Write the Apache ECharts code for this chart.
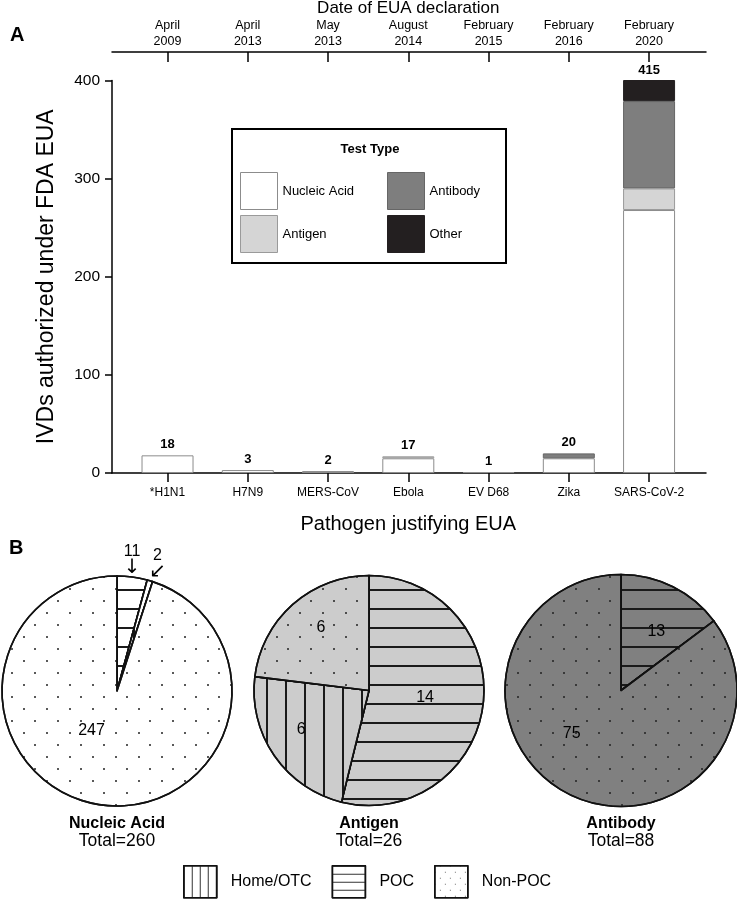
<!DOCTYPE html>
<html><head><meta charset="utf-8">
<script src="https://cdn.jsdelivr.net/npm/echarts@6/dist/echarts.min.js"></script>
<style>html,body{margin:0;padding:0;background:#fff}#c{width:737px;height:900px}</style>
</head><body><div id="c"></div>
<script>
// ---------- data ----------
const pathogens = ['*H1N1', 'H7N9', 'MERS-CoV', 'Ebola', 'EV D68', 'Zika', 'SARS-CoV-2'];
const declarationDates = ['April\n2009', 'April\n2013', 'May\n2013', 'August\n2014', 'February\n2015', 'February\n2016', 'February\n2020'];
const testTypes = ['Nucleic Acid', 'Antigen', 'Antibody', 'Other'];
const nucleicAcid = [18, 3, 2, 15, 1, 15, 268];
const antigen     = [0, 0, 0, 2, 0, 0, 22];
const antibody    = [0, 0, 0, 0, 0, 5, 89];
const other       = [0, 0, 0, 0, 0, 0, 36];
const yTicks = [0, 100, 200, 300, 400];

const settings = ['POC', 'Home/OTC', 'Non-POC'];           // slice order, clockwise from top
const legendSettings = ['Home/OTC', 'POC', 'Non-POC'];
const nucleicAcidBySetting = [11, 2, 247];
const antigenBySetting     = [14, 6, 6];
const antibodyBySetting    = [13, 0, 75];

// ---------- styles ----------
const FONT = 'Liberation Sans, Arial, sans-serif';
const barStyles = {
  'Nucleic Acid': {color: '#ffffff', borderColor: '#8c8c8c', borderWidth: 1},
  'Antigen':      {color: '#d5d5d5', borderColor: '#9a9a9a', borderWidth: 1},
  'Antibody':     {color: '#7e7e7e', borderColor: '#666666', borderWidth: 1},
  'Other':        {color: '#231f20', borderColor: '#231f20', borderWidth: 1}
};
const bigDecal = {
  'Home/OTC': {symbol: 'rect', symbolSize: 1, dashArrayX: [2, 17], dashArrayY: [1, 0], color: '#1a1a1a'},
  'POC':      {symbol: 'rect', symbolSize: 1, dashArrayX: [1, 0], dashArrayY: [2, 17], color: '#1a1a1a'},
  'Non-POC':  {symbol: 'circle', symbolSize: 1, dashArrayX: [[2, 21], [0, 11, 2, 10]], dashArrayY: [2, 10], color: '#222'}
};
const smallDecal = {
  'Home/OTC': {symbol: 'rect', symbolSize: 1, dashArrayX: [1, 7], dashArrayY: [1, 0], color: '#333'},
  'POC':      {symbol: 'rect', symbolSize: 1, dashArrayX: [1, 0], dashArrayY: [1, 7], color: '#333'},
  'Non-POC':  {symbol: 'circle', symbolSize: 1, dashArrayX: [[1, 9], [0, 5, 1, 4]], dashArrayY: [1, 5], color: '#444'}
};

const stacks = [nucleicAcid, antigen, antibody, other];
const totals = pathogens.map((_, i) => stacks.reduce((s, a) => s + a[i], 0));
const sum = a => a.reduce((s, v) => s + v, 0);

const barSeries = testTypes.map((t, k) => ({
  name: t, type: 'bar', stack: 'tests', xAxisIndex: 0, yAxisIndex: 0,
  barWidth: 52, barGap: '-100%',
  data: stacks[k].map(v => v === 0 ? '-' : v),
  itemStyle: barStyles[t],
  emphasis: {disabled: true}
}));
barSeries.push({
  name: 'Total', type: 'bar', xAxisIndex: 0, yAxisIndex: 0, barWidth: 52, barGap: '-100%',
  data: totals, itemStyle: {color: 'rgba(0,0,0,0)'}, z: 5,
  label: {show: true, position: 'top', distance: 4, fontSize: 13, fontWeight: 'bold', color: '#000', fontFamily: FONT},
  emphasis: {disabled: true}
});

function pieSeries(values, fill, center, radius, extra) {
  return Object.assign({
    type: 'pie', center: center, radius: radius, startAngle: 90, clockwise: true,
    silent: true, avoidLabelOverlap: false,
    data: settings.map((n, i) => ({name: n, value: values[i], itemStyle: {color: fill, decal: bigDecal[n]}}))
                  .filter(d => d.value > 0),
    itemStyle: {borderColor: '#111', borderWidth: 1.6},
    label: {show: true, position: 'inside', formatter: '{c}', fontSize: 16, color: '#000', fontFamily: FONT},
    labelLine: {show: false},
    emphasis: {disabled: true}
  }, extra || {});
}

const naPie = pieSeries(nucleicAcidBySetting, '#ffffff', [117, 691], 115, {
  label: {
    show: true, position: 'inside', fontSize: 16, color: '#000', fontFamily: FONT,
    formatter: p => p.dataIndex === 0 ? '{n|' + p.value + '}\n{a|↓}' : p.dataIndex === 1 ? '{n|' + p.value + '}\n{a|↙}' : String(p.value),
    rich: {n: {fontSize: 16, lineHeight: 15, fontFamily: FONT}, a: {fontSize: 20, lineHeight: 18, fontFamily: 'DejaVu Sans'}}
  },
  labelLayout: function (p) {
    if (p.dataIndex === 0) return {x: p.rect.x + p.rect.width / 2, y: p.rect.y + 2, align: 'center', verticalAlign: 'bottom'};
    if (p.dataIndex === 1) return {x: p.rect.x + p.rect.width + 4, y: p.rect.y + 2, align: 'center', verticalAlign: 'bottom'};
    return {dx: -16, dy: -20};
  }
});
const agPie = pieSeries(antigenBySetting, '#cccccc', [369, 690.5], 115, {
  labelLayout: function (p) {
    if (p.dataIndex === 1) return {dx: -18, dy: 5};
    if (p.dataIndex === 2) return {dx: -8, dy: -18};
    return {dx: -4, dy: 0};
  }
});
const abPie = pieSeries(antibodyBySetting, '#808080', [621, 690.5], 116, {
  labelLayout: function (p) {
    if (p.dataIndex === 1) return {dx: -22, dy: -11};
    return {dx: 8, dy: -4};
  }
});

const pieTitles = [
  {name: 'Nucleic Acid', vals: nucleicAcidBySetting, x: 117},
  {name: 'Antigen', vals: antigenBySetting, x: 369},
  {name: 'Antibody', vals: antibodyBySetting, x: 621}
].map(o => ({
  text: o.name, subtext: 'Total=' + sum(o.vals), left: o.x, top: 816, textAlign: 'center', padding: 0, itemGap: 0,
  textStyle: {fontSize: 16, fontWeight: 'bold', color: '#000', fontFamily: FONT},
  subtextStyle: {fontSize: 17.5, color: '#000', fontFamily: FONT}
}));

const axisLineStyle = {color: '#000', width: 1.5};

const option = {
  animation: false,
  textStyle: {fontFamily: FONT},
  title: [
    {text: 'A', left: 10, top: 25, padding: 0, textStyle: {fontSize: 20, fontWeight: 'bold', color: '#000', fontFamily: FONT}},
    {text: 'B', left: 9, top: 538, padding: 0, textStyle: {fontSize: 20, fontWeight: 'bold', color: '#000', fontFamily: FONT}},
    {text: 'Test Type', left: 370, top: 143, textAlign: 'center', padding: 0, textStyle: {fontSize: 13, fontWeight: 'bold', color: '#000', fontFamily: FONT}}
  ].concat(pieTitles),
  graphic: [{type: 'rect', silent: true, shape: {x: 232, y: 129, width: 274, height: 134}, style: {fill: 'none', stroke: '#000', lineWidth: 2}}],
  legend: [
    {data: ['Nucleic Acid', 'Antigen'], left: 240, top: 172, orient: 'vertical', itemWidth: 37, itemHeight: 37, itemGap: 5, icon: 'rect', padding: 0, selectedMode: false,
     itemStyle: {borderWidth: 1}, textStyle: {fontSize: 13, color: '#000', fontFamily: FONT}},
    {data: ['Antibody', 'Other'], left: 387, top: 172, orient: 'vertical', itemWidth: 37, itemHeight: 37, itemGap: 5, icon: 'rect', padding: 0, selectedMode: false,
     itemStyle: {borderWidth: 1}, textStyle: {fontSize: 13, color: '#000', fontFamily: FONT}},
    {data: legendSettings.map(n => ({name: n, itemStyle: {color: '#fff', borderColor: '#111', borderWidth: 1.5, decal: smallDecal[n]}})),
     left: 183, top: 865, orient: 'horizontal', itemWidth: 33, itemHeight: 32, itemGap: 20, icon: 'rect', padding: 0, selectedMode: false,
     textStyle: {fontSize: 16, color: '#000', fontFamily: FONT, padding: [0, 0, 0, 9]}}
  ],
  grid: [
    {left: 127.4, width: 561.8, top: 80.5, height: 392.5, outerBoundsMode: 'none', containLabel: false},
    {left: 112, width: 594, top: 80.5, height: 392.5, outerBoundsMode: 'none', containLabel: false}
  ],
  xAxis: [
    {gridIndex: 0, type: 'category', data: pathogens, position: 'bottom',
     axisLine: {show: false, onZero: false, lineStyle: axisLineStyle}, axisTick: {show: true, alignWithLabel: true, length: 9, lineStyle: axisLineStyle},
     axisLabel: {interval: 0, fontSize: 12, color: '#000', margin: 14, fontFamily: FONT},
     name: 'Pathogen justifying EUA', nameLocation: 'middle', nameGap: 41,
     nameTextStyle: {fontSize: 20, color: '#000', fontFamily: FONT}},
    {gridIndex: 0, type: 'category', data: declarationDates, position: 'top', offset: 28.5,
     axisLine: {show: false, onZero: false, lineStyle: axisLineStyle}, axisTick: {show: true, inside: true, alignWithLabel: true, length: 10, lineStyle: axisLineStyle},
     axisLabel: {interval: 0, fontSize: 12.5, lineHeight: 16, color: '#000', margin: 2, fontFamily: FONT},
     name: 'Date of EUA declaration', nameLocation: 'middle', nameGap: 34,
     nameTextStyle: {fontSize: 17, color: '#000', fontFamily: FONT}},
    {gridIndex: 1, type: 'value', min: 0, max: 1, position: 'bottom',
     axisLine: {show: true, onZero: false, lineStyle: axisLineStyle}, axisTick: {show: false}, axisLabel: {show: false}, splitLine: {show: false}},
    {gridIndex: 1, type: 'value', min: 0, max: 1, position: 'top', offset: 28.5,
     axisLine: {show: true, onZero: false, lineStyle: axisLineStyle}, axisTick: {show: false}, axisLabel: {show: false}, splitLine: {show: false}}
  ],
  yAxis: [
    {gridIndex: 0, type: 'value', min: 0, max: 400, interval: 100, offset: 15.4,
     axisLine: {show: true, onZero: false, lineStyle: axisLineStyle},
     axisTick: {show: true, length: 7, lineStyle: axisLineStyle, customValues: yTicks},
     axisLabel: {fontSize: 15.5, color: '#000', margin: 12, fontFamily: FONT, customValues: yTicks},
     splitLine: {show: false},
     name: 'IVDs authorized under FDA EUA', nameLocation: 'middle', nameGap: 54,
     nameTextStyle: {fontSize: 23, color: '#000', fontFamily: FONT}},
    {gridIndex: 1, type: 'value', min: 0, max: 1, show: false}
  ],
  series: barSeries.concat([naPie, agPie, abPie])
};

const chart = echarts.init(document.getElementById('c'), null, {renderer: 'canvas'});
chart.setOption(option);
</script>
</body></html>
